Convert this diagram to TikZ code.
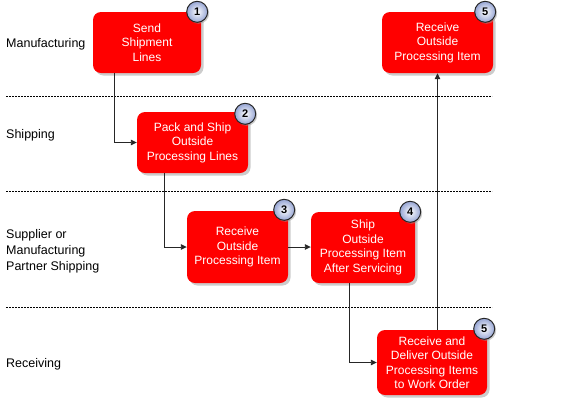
\documentclass[tikz,border=0pt]{standalone}
\usepackage{fontspec}
\setmainfont{Liberation Sans}
\usetikzlibrary{arrows.meta,shadows,calc}

\definecolor{badgeblue}{RGB}{150,165,212}

\tikzset{
  task/.style={fill=red, text=white, rounded corners=8pt, align=center,
    inner sep=2pt, font=\fontsize{12}{14.5}\selectfont,
    drop shadow={shadow xshift=2.5pt, shadow yshift=-2.5pt, fill=black!40, opacity=0.5}},
  badge/.style={circle, draw=black!85, line width=1pt, inner color=white,
    outer color=badgeblue, minimum size=21pt, inner sep=0pt,
    font=\bfseries\fontsize{11}{11}\selectfont,
    drop shadow={shadow xshift=1.5pt, shadow yshift=-1.5pt, fill=black!40, opacity=0.5}},
  lane/.style={anchor=west, align=left, inner sep=0pt,
    font=\fontsize{12.5}{16}\selectfont},
  flow/.style={-{Triangle[length=6pt,width=5.5pt]}, line width=0.9pt, black!85},
  sep/.style={dash pattern=on 2pt off 1pt, line width=0.8pt}
}

\begin{document}
\begin{tikzpicture}[x=1pt, y=-1pt]
    \useasboundingbox (0,0) rectangle (564,400);

    % swimlane borders
    \foreach \y in {96,191,307}
        \draw[sep] (6,\y) -- (492,\y);

    % lanes
    \node[lane] (mfg) at (6,44) {Manufacturing};
    \node[lane] (shp) at (6,135) {Shipping};
    \node[lane] (sup) at (6,251) {Supplier or\\Manufacturing\\Partner Shipping};
    \node[lane] (rcv) at (6,364) {Receiving};

    % steps
    \node[task, minimum width=108, minimum height=61] (sendlines) at (147,42.5)
        {Send\\Shipment\\Lines};
    \node[task, minimum width=111, minimum height=61] (packship) at (192.5,142.5)
        {Pack and Ship\\Outside\\Processing Lines};
    \node[task, minimum width=101, minimum height=72] (recvsupp) at (237.5,247)
        {Receive\\Outside\\Processing Item};
    \node[task, minimum width=104, minimum height=71] (shipback) at (363,247.5)
        {Ship\\Outside\\Processing Item\\After Servicing};
    \node[task, minimum width=110, minimum height=65] (recvdeliver) at (432,362.5)
        {Receive and\\Deliver Outside\\Processing Items\\to Work Order};
    \node[task, minimum width=111, minimum height=61] (recvmfg) at (437.5,42.5)
        {Receive\\Outside\\Processing Item};

    % flow
    \draw[flow] ($(sendlines.south west)+(22,0)$) |- (packship);
    \draw[flow] ($(packship.south west)+(28,0)$) |- (recvsupp);
    \draw[flow] (recvsupp.east) -- (recvsupp.east -| shipback.west);
    \draw[flow] ($(shipback.south west)+(39,0)$) |- (recvdeliver);
    \draw[flow] (recvdeliver.north -| recvmfg.south) -- (recvmfg.south);

    % step numbers
    \node[badge] (n1) at ($(sendlines.north east)+(-4,0)$) {1};
    \node[badge] (n2) at ($(packship.north east)+(-3,2)$) {2};
    \node[badge] (n3) at ($(recvsupp.north east)+(-4,-1)$) {3};
    \node[badge] (n4) at ($(shipback.north east)+(-5,0)$) {4};
    \node[badge] (n5a) at ($(recvdeliver.north east)+(-3,-1)$) {5};
    \node[badge] (n5b) at ($(recvmfg.north east)+(-8,0)$) {5};
\end{tikzpicture}
\end{document}
